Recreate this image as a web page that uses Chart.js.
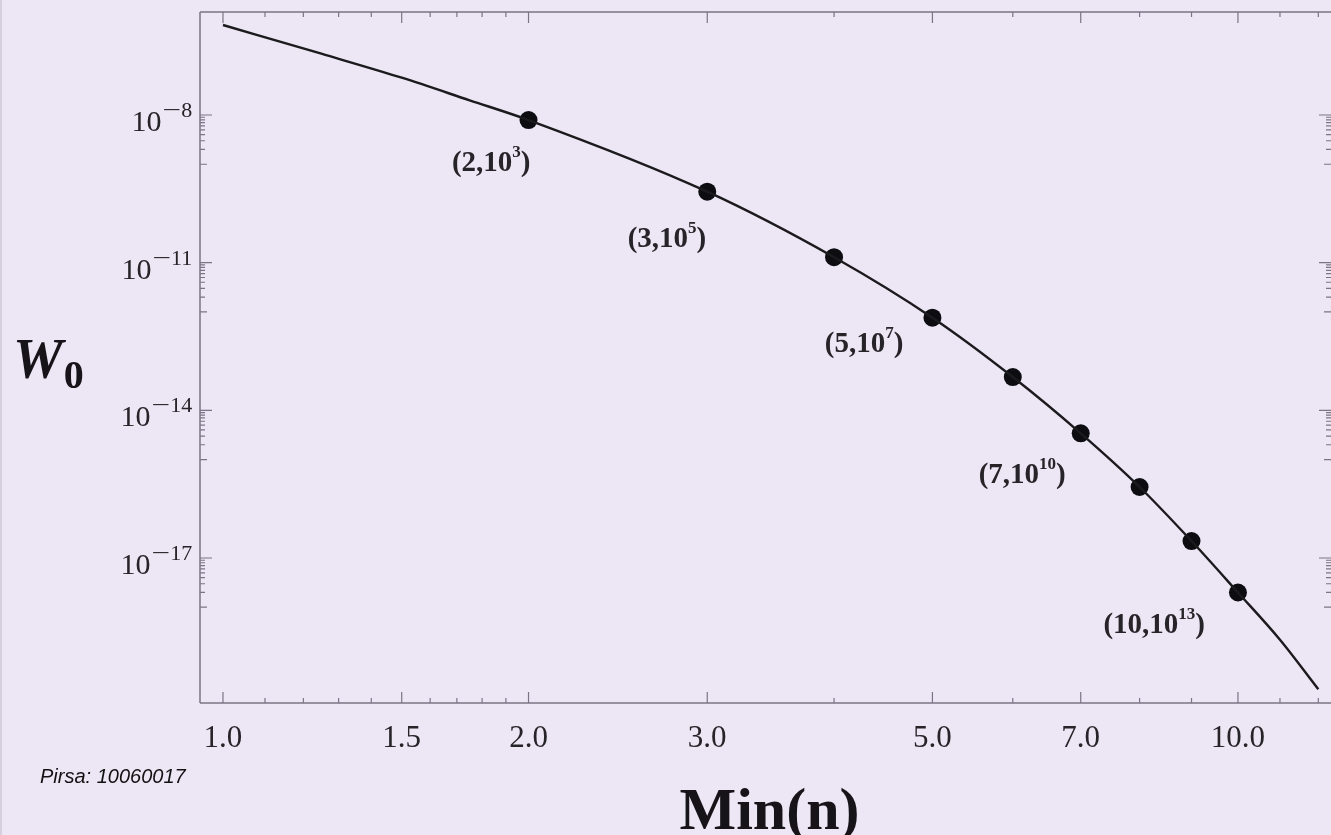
<!DOCTYPE html>
<html>
<head>
<meta charset="utf-8">
<script src="https://cdn.jsdelivr.net/npm/chart.js@4.4.1/dist/chart.umd.min.js"></script>
<style>
  html, body { margin: 0; padding: 0; background: #ece6f5; overflow: hidden; }
  canvas { display: block; }
</style>
</head>
<body>
<canvas id="chart" width="1331" height="835"></canvas>
<script>
// W0 as a function of Min(n), sampled along the curve
const curveN = [1, 1.25, 1.5, 1.75, 2, 3, 4, 5, 6, 7, 8, 9, 10, 11, 12];
const curveW = [6.75e-7, 1.76e-7, 5.73e-8, 1.99e-8, 7.91e-9, 2.77e-10, 1.29e-11, 7.62e-13,
                4.75e-14, 3.41e-15, 2.77e-16, 2.21e-17, 1.99e-18, 2.18e-19, 2.15e-20];

// Marked points on the curve
const pointN = [2, 3, 4, 5, 6, 7, 8, 9, 10];
const pointW = [7.91e-9, 2.77e-10, 1.29e-11, 7.62e-13, 4.75e-14, 3.41e-15, 2.77e-16, 2.21e-17, 1.99e-18];

// Axis ticks
const xMajorTicks = [1.0, 1.5, 2.0, 3.0, 5.0, 7.0, 10.0];
const xTickLabels = ['1.0', '1.5', '2.0', '3.0', '5.0', '7.0', '10.0'];
const xMinorTicks = [1.1, 1.2, 1.3, 1.4, 1.6, 1.7, 1.8, 1.9, 4, 6, 8, 9, 11, 12];
const yMajorExponents = [-8, -11, -14, -17];

// Point annotations "(n,10^k)"
const noteN = [2, 3, 5, 7, 10];
const noteBase = ['(2,10', '(3,10', '(5,10', '(7,10', '(10,10'];
const noteSup = ['3', '5', '7', '10', '13'];

// Label placement relative to the annotated point: right edge shift, baseline shift
const noteStyle = [
  { dx: 2, dy: 51 },
  { dx: -1, dy: 55 },
  { dx: -29, dy: 34 },
  { dx: -15, dy: 50 },
  { dx: -33, dy: 40 }
];

const SERIF = '"Liberation Serif", "Times New Roman", serif';
const AXIS_COLOR = '#7a7585';
const TEXT_COLOR = '#262428';

const framePlugin = {
  id: 'frame',
  beforeDraw(chart) {
    const ctx = chart.ctx;
    ctx.save();
    ctx.fillStyle = '#ece6f5';
    ctx.fillRect(0, 0, chart.width, chart.height);
    ctx.fillStyle = '#d6d0de';
    ctx.fillRect(0, 0, 2, chart.height);
    ctx.restore();
  },
  beforeDatasetsDraw(chart) {
    const { ctx, chartArea: a, scales: { x, y } } = chart;
    ctx.save();
    ctx.strokeStyle = AXIS_COLOR;
    ctx.lineWidth = 1.5;

    // frame: left, top, bottom
    ctx.beginPath();
    ctx.moveTo(a.left, a.top); ctx.lineTo(a.left, a.bottom);
    ctx.moveTo(a.left, a.top); ctx.lineTo(a.right, a.top);
    ctx.moveTo(a.left, a.bottom); ctx.lineTo(a.right, a.bottom);
    ctx.stroke();

    // x ticks on bottom and top edges
    ctx.lineWidth = 1.2;
    const xTick = (v, len) => {
      const px = x.getPixelForValue(v);
      ctx.beginPath();
      ctx.moveTo(px, a.bottom); ctx.lineTo(px, a.bottom - len);
      ctx.moveTo(px, a.top); ctx.lineTo(px, a.top + len);
      ctx.stroke();
    };
    xMajorTicks.forEach(v => xTick(v, 11));
    xMinorTicks.forEach(v => xTick(v, 5));

    // y ticks on left and right edges
    const yTick = (v, len) => {
      const py = y.getPixelForValue(v);
      ctx.beginPath();
      ctx.moveTo(a.left, py); ctx.lineTo(a.left + len, py);
      ctx.moveTo(a.right, py); ctx.lineTo(a.right - len, py);
      ctx.stroke();
    };
    yMajorExponents.forEach(k => {
      yTick(Math.pow(10, k), 12);
      for (let m = 1; m <= 9; m++) {
        yTick(m * Math.pow(10, k - 1), m === 1 ? 7 : 5);
      }
    });
    ctx.restore();
  },
  afterDraw(chart) {
    const { ctx, chartArea: a, scales: { x, y } } = chart;
    ctx.save();
    ctx.fillStyle = TEXT_COLOR;

    // x tick labels
    ctx.font = '31px ' + SERIF;
    ctx.textAlign = 'center';
    ctx.textBaseline = 'alphabetic';
    xMajorTicks.forEach((v, i) => {
      ctx.fillText(xTickLabels[i], x.getPixelForValue(v), a.bottom + 44);
    });

    // y tick labels 10^k
    ctx.textAlign = 'left';
    yMajorExponents.forEach(k => {
      const py = y.getPixelForValue(Math.pow(10, k));
      const digits = String(Math.abs(k));
      ctx.font = '30px ' + SERIF;
      const wBase = ctx.measureText('10').width;
      ctx.font = '22px ' + SERIF;
      const wMinus = ctx.measureText('\u2212').width;
      const wDigits = ctx.measureText(digits).width;
      const right = a.left - 11;
      const left = right - wDigits - wMinus - wBase - 4;
      ctx.font = '30px ' + SERIF;
      ctx.fillText('10', left, py + 16);
      ctx.font = '22px ' + SERIF;
      ctx.save();
      ctx.translate(left + wBase + 1, py + 2);
      ctx.scale(1.5, 1);
      ctx.fillText('\u2212', 0, 0);
      ctx.restore();
      ctx.fillText(digits, left + wBase + 1 + wMinus * 1.5, py + 2);
    });

    // point annotations
    noteN.forEach((n, i) => {
      const idx = pointN.indexOf(n);
      const px = x.getPixelForValue(n);
      const py = y.getPixelForValue(pointW[idx]);
      ctx.font = 'bold 29px ' + SERIF;
      const wBase = ctx.measureText(noteBase[i]).width;
      ctx.font = 'bold 17px ' + SERIF;
      const wSup = ctx.measureText(noteSup[i]).width;
      ctx.font = 'bold 29px ' + SERIF;
      const wClose = ctx.measureText(')').width;
      const right = px + noteStyle[i].dx;
      const left = right - wBase - wSup - wClose;
      const base = py + noteStyle[i].dy;
      ctx.fillText(noteBase[i], left, base);
      ctx.fillText(')', left + wBase + wSup, base);
      ctx.font = 'bold 17px ' + SERIF;
      ctx.fillText(noteSup[i], left + wBase, base - 14);
    });

    // y axis title W0
    ctx.fillStyle = '#161418';
    ctx.font = 'italic bold 56px ' + SERIF;
    const midY = (a.top + a.bottom) / 2;
    ctx.fillText('W', 13, midY + 20);
    const wW = ctx.measureText('W').width;
    ctx.font = 'bold 40px ' + SERIF;
    ctx.fillText('0', 13 + wW + 1, midY + 30);

    // x axis title
    ctx.font = 'bold 60px ' + SERIF;
    ctx.textAlign = 'center';
    ctx.fillText('Min(n)', (a.left + a.right) / 2 + 4, a.bottom + 126);

    // source tag
    ctx.font = 'italic 20px "Liberation Sans", Arial, sans-serif';
    ctx.textAlign = 'left';
    ctx.fillStyle = '#111111';
    ctx.fillText('Pirsa: 10060017', 40, a.bottom + 80);
    ctx.restore();
  }
};

new Chart(document.getElementById('chart'), {
  type: 'scatter',
  data: {
    datasets: [
      {
        label: 'W0',
        data: curveN.map((n, i) => ({ x: n, y: curveW[i] })),
        showLine: true,
        pointRadius: 0,
        borderColor: '#1b1a1d',
        borderWidth: 2.4,
        cubicInterpolationMode: 'monotone',
        clip: false
      },
      {
        label: 'points',
        data: pointN.map((n, i) => ({ x: n, y: pointW[i] })),
        showLine: false,
        pointRadius: 9,
        pointBackgroundColor: '#0d0c10',
        pointBorderWidth: 0,
        clip: false
      }
    ]
  },
  options: {
    responsive: false,
    animation: false,
    layout: { autoPadding: false, padding: { left: 200, top: 12, right: 0, bottom: 132 } },
    plugins: { legend: { display: false }, tooltip: { enabled: false } },
    scales: {
      x: { type: 'logarithmic', min: 0.9492, max: 12.35, display: false },
      y: { type: 'logarithmic', min: 1.132e-20, max: 1.239e-6, display: false }
    }
  },
  plugins: [framePlugin]
});
</script>
</body>
</html>
